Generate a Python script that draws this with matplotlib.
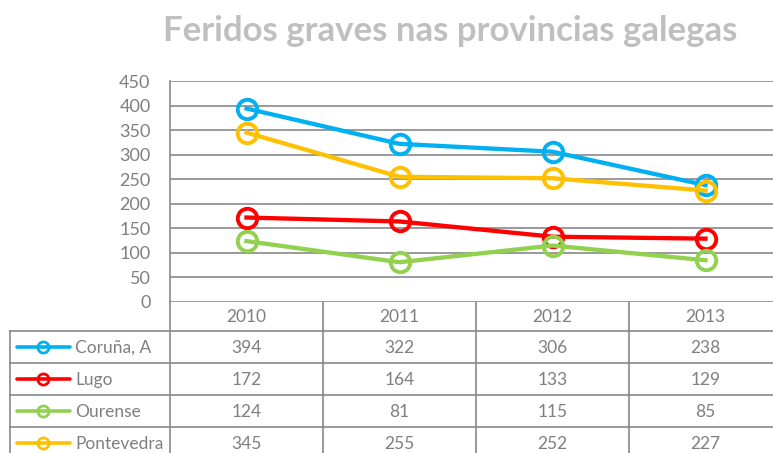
import matplotlib

matplotlib.use("Agg")
import matplotlib.pyplot as plt

years = ["2010", "2011", "2012", "2013"]
series_names = ["Coruña, A", "Lugo", "Ourense", "Pontevedra"]
coruna = [394, 322, 306, 238]
lugo = [172, 164, 133, 129]
ourense = [124, 81, 115, 85]
pontevedra = [345, 255, 252, 227]
series_values = [coruna, lugo, ourense, pontevedra]
colors = ["#00B0F0", "#FF0000", "#92D050", "#FFC000"]

GRID = "#898989"
TEXT = "#7F7F7F"
FONT = ["Lato", "DejaVu Sans"]

plt.rcParams["font.family"] = FONT

W, H = 773, 453
fig = plt.figure(figsize=(W / 100, H / 100), dpi=100)

# pixel layout of the plot area
x0, y_top, y_bot, cat_w = 170, 81, 302, 153
ax = fig.add_axes([x0 / W, 1 - y_bot / H, 4 * cat_w / W, (y_bot - y_top) / H])
ax.set_xlim(-0.5, 3.5)
ax.set_ylim(0, 450)
ax.set_yticks(range(0, 451, 50))
ax.set_xticks([])
ax.tick_params(axis="y", length=0, pad=14, labelsize=13, labelcolor=TEXT)
ax.grid(axis="y", color=GRID, linewidth=1.2)
ax.set_axisbelow(True)
for s in ["top", "right", "bottom"]:
    ax.spines[s].set_visible(False)
ax.spines["left"].set_color(GRID)
ax.spines["left"].set_linewidth(1.2)

xs = list(range(len(years)))
for vals, c in zip(series_values, colors):
    ax.plot(xs, vals, color=c, linewidth=3.1, marker="o", markersize=14,
            markerfacecolor="none", markeredgecolor=c, markeredgewidth=2.8,
            clip_on=False, zorder=3)

# overlay in pixel coordinates for title and data table
ov = fig.add_axes([0, 0, 1, 1], zorder=-1)
ov.set_xlim(0, W)
ov.set_ylim(H, 0)
ov.axis("off")

ov.text(450, 31, "Feridos graves nas provincias galegas", ha="center", va="center",
        fontsize=25, fontweight="bold", color="#BFBFBF")

left_col = 10
row_edges = [302, 331, 363, 395, 427, 459]
col_edges = [x0 + i * cat_w for i in range(len(years) + 1)]
lw = 1.2
# horizontal lines
for y in row_edges[1:]:
    ov.plot([left_col, W + 20], [y, y], color=GRID, linewidth=lw)
# vertical lines
ov.plot([left_col, left_col], [row_edges[1], H + 10], color=GRID, linewidth=lw)
for x in col_edges:
    ov.plot([x, x], [y_bot, H + 10], color=GRID, linewidth=lw)

centers = [(row_edges[i] + row_edges[i + 1]) / 2 for i in range(len(row_edges) - 1)]
for j, yr in enumerate(years):
    ov.text(x0 + (j + 0.5) * cat_w, centers[0] + 1, yr, ha="center", va="center",
            fontsize=12.5, color=TEXT)
for i, (name, vals, c) in enumerate(zip(series_names, series_values, colors)):
    yc = centers[i + 1]
    ov.plot([17, 70], [yc, yc], color=c, linewidth=2.6, solid_capstyle="round")
    ov.plot([43], [yc], marker="o", markersize=8, markerfacecolor="none",
            markeredgecolor=c, markeredgewidth=2.0)
    ov.text(75, yc + 1, name, ha="left", va="center", fontsize=12.5, color=TEXT)
    for j, v in enumerate(vals):
        ov.text(x0 + (j + 0.5) * cat_w, yc + 1, str(v), ha="center", va="center",
                fontsize=12.5, color=TEXT)

fig.savefig("out.png", dpi=100, facecolor="white")
